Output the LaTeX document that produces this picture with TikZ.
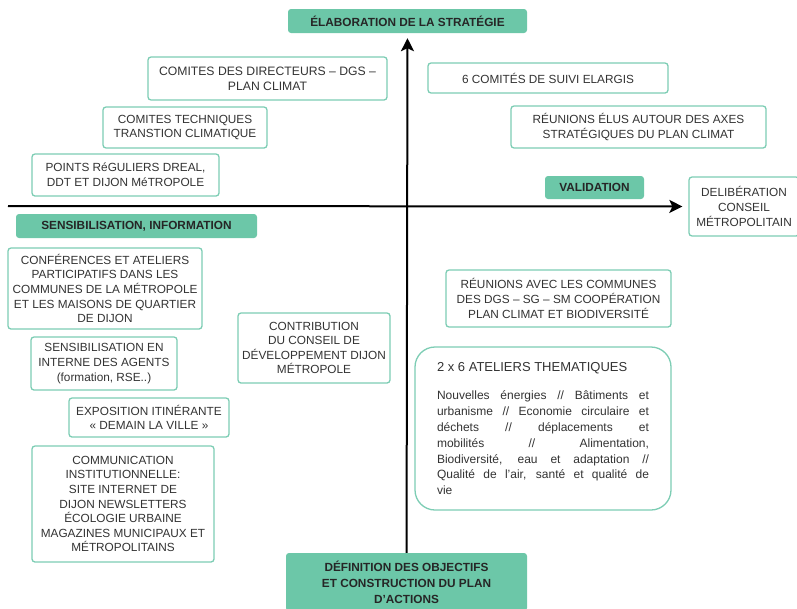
\documentclass[tikz,border=0pt]{standalone}
\usepackage{fontspec}
\setmainfont{Liberation Sans}
\usepackage{xcolor}
\usepackage{tikz}
\usetikzlibrary{arrows.meta}

\definecolor{phasefill}{HTML}{6CC7A8}
\definecolor{cardline}{HTML}{7DCDB4}
\definecolor{cardtext}{HTML}{333333}

\begin{document}
\begin{tikzpicture}[x=1pt, y=-1pt]
\tikzstyle{phase} = [rectangle, rounded corners=3pt,
    fill=phasefill, draw=none, text=black!85, align=center,
    font=\fontsize{11.8}{14.6}\selectfont\bfseries, inner sep=2pt]
\tikzstyle{card} = [rectangle, rounded corners=3pt,
    draw=cardline, line width=1.3pt, fill=white, text=cardtext,
    align=center, font=\fontsize{11.8}{14.6}\selectfont, inner sep=2pt]
\tikzstyle{axis} = [line width=2pt, -{Stealth[length=13pt,width=13pt,inset=3pt]}]

\useasboundingbox (0,0) rectangle (797,608);
\clip (0,0) rectangle (797,608);

% --- PHASE LABELS ---
\node (elab) [phase, minimum width=239pt, minimum height=24pt] at (407.5,21)
    {ÉLABORATION DE LA STRATÉGIE};
\node (valid) [phase, minimum width=99pt, minimum height=23pt] at (594.5,187.5)
    {VALIDATION};
\node (sensib) [phase, minimum width=241pt, minimum height=24pt] at (136.5,226)
    {SENSIBILISATION, INFORMATION};
\node (defin) [phase, minimum width=241pt, minimum height=58pt,
    font=\fontsize{11.8}{16}\selectfont\bfseries] at (406.5,582)
    {DÉFINITION DES OBJECTIFS\\ET CONSTRUCTION DU PLAN\\D’ACTIONS};

% --- UPPER LEFT ---
\node (directeurs) [card, minimum width=239pt, minimum height=43pt,
    font=\fontsize{12.2}{14.6}\selectfont] at (267.5,78.5)
    {COMITES DES DIRECTEURS – DGS –\\PLAN CLIMAT};
\node (techniques) [card, minimum width=164pt, minimum height=41pt] at (185,127.5)
    {COMITES TECHNIQUES\\TRANSTION CLIMATIQUE};
\node (points) [card, minimum width=187pt, minimum height=42pt] at (125.5,175)
    {POINTS RéGULIERS DREAL,\\DDT ET DIJON MéTROPOLE};

% --- UPPER RIGHT ---
\node (suivi) [card, minimum width=240pt, minimum height=30pt] at (548,78)
    {6 COMITÉS DE SUIVI ELARGIS};
\node (elus) [card, minimum width=255pt, minimum height=42pt] at (638.5,127)
    {RÉUNIONS ÉLUS AUTOUR DES AXES\\STRATÉGIQUES DU PLAN CLIMAT};
\node (delib) [card, minimum width=110pt, minimum height=59pt,
    font=\fontsize{11.8}{15}\selectfont] at (744,206.5)
    {DELIBÉRATION\\CONSEIL\\MÉTROPOLITAIN};

% --- LOWER LEFT ---
\node (conf) [card, minimum width=194pt, minimum height=81pt] at (105,288.5)
    {CONFÉRENCES ET ATELIERS\\PARTICIPATIFS DANS LES\\COMMUNES DE LA MÉTROPOLE\\ET LES MAISONS DE QUARTIER\\DE DIJON};
\node (agents) [card, minimum width=146pt, minimum height=53pt] at (104,363.5)
    {SENSIBILISATION EN\\INTERNE DES AGENTS\\(formation, RSE..)};
\node (contrib) [card, minimum width=152pt, minimum height=70pt] at (314,348)
    {CONTRIBUTION\\DU CONSEIL DE\\DÉVELOPPEMENT DIJON\\MÉTROPOLE};
\node (expo) [card, minimum width=160pt, minimum height=39pt] at (149,417.5)
    {EXPOSITION ITINÉRANTE\\« DEMAIN LA VILLE »};
\node (comm) [card, minimum width=182pt, minimum height=116pt] at (123,504)
    {COMMUNICATION\\INSTITUTIONNELLE:\\SITE INTERNET DE\\DIJON NEWSLETTERS\\ÉCOLOGIE URBAINE\\MAGAZINES MUNICIPAUX ET\\MÉTROPOLITAINS};

% --- LOWER RIGHT ---
\node (reunions) [card, minimum width=225pt, minimum height=57pt] at (558.5,298.5)
    {RÉUNIONS AVEC LES COMMUNES\\DES DGS – SG – SM COOPÉRATION\\PLAN CLIMAT ET BIODIVERSITÉ};
\node (ateliers) [card, rounded corners=20pt, minimum width=256pt, minimum height=163pt,
    text width=212pt, align=justify,
    font=\fontsize{12}{15.8}\selectfont] at (543,428.5)
    {{\fontsize{13}{15}\selectfont 2 x 6 ATELIERS THEMATIQUES\par}\vspace{13pt}%
     \tolerance=10000
     Nouvelles énergies // Bâtiments et\linebreak
     urbanisme // Economie circulaire et\linebreak
     déchets // déplacements et\linebreak
     mobilités // Alimentation,\linebreak
     Biodiversité, eau et adaptation //\linebreak
     Qualité de l'air, santé et qualité de\linebreak
     vie};

% --- AXES ---
\coordinate (west) at (8,206);
\draw [axis, shorten >=6pt] (west) -- (delib);
\draw [axis, shorten >=5pt] (defin) -- (elab);
\end{tikzpicture}
\end{document}
